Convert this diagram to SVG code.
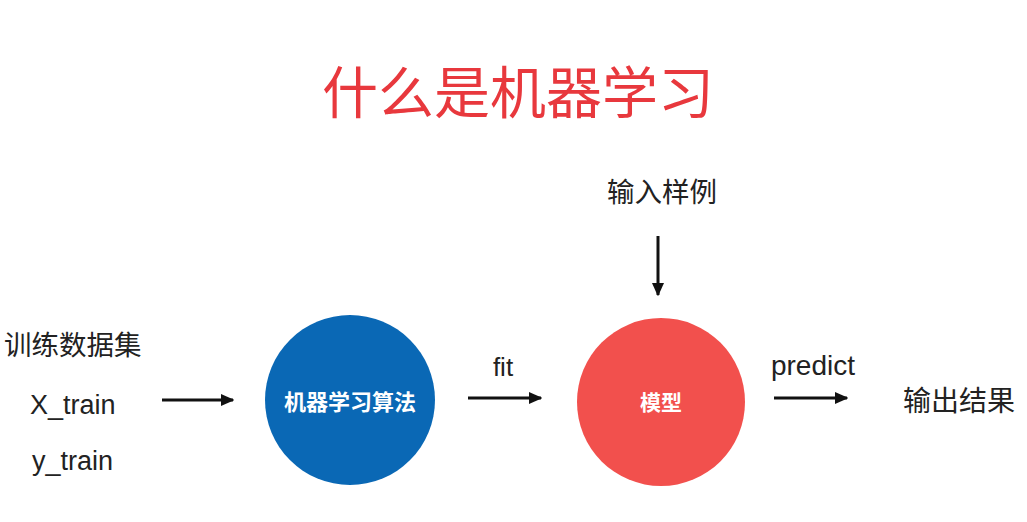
<svg xmlns="http://www.w3.org/2000/svg" width="1027" height="522" viewBox="0 0 1027 522">
<defs>
<marker id="ah" viewBox="0 0 10 10" refX="9" refY="5" markerWidth="4.5" markerHeight="4.5" orient="auto" markerUnits="strokeWidth"><path d="M0,0.5 L10,5 L0,9.5 z" fill="#111"/></marker>
<style>
.t{font-family:"Liberation Sans","Noto Sans CJK SC",sans-serif;fill:#222}
.w{font-family:"Noto Sans CJK SC",sans-serif;fill:#fff;font-weight:bold}
.c{stroke:#111;stroke-width:3;fill:none}
</style>
</defs>
<rect width="1027" height="522" fill="#fff"/>
<text x="518" y="113" text-anchor="middle" font-family="Noto Sans CJK SC, sans-serif" font-size="56" fill="#e8383d">什么是机器学习</text>
<g id="train">
<text class="t" x="4" y="355" font-size="27.5" font-family="Noto Sans CJK SC, sans-serif">训练数据集</text>
<text class="t" x="30" y="414" font-size="27">X_train</text>
<text class="t" x="32" y="470" font-size="27">y_train</text>
</g>
<g id="algo">
<circle cx="350" cy="400" r="85" fill="#0a68b5"/>
<text class="w" x="350" y="410" font-size="22" text-anchor="middle">机器学习算法</text>
</g>
<g id="model">
<circle cx="661" cy="402" r="84" fill="#f2504d"/>
<text class="w" x="661" y="410" font-size="21" text-anchor="middle">模型</text>
</g>
<g id="input">
<text class="t" x="662" y="202" font-size="27.5" text-anchor="middle">输入样例</text>
</g>
<g id="output">
<text class="t" x="959" y="411" font-size="28" text-anchor="middle">输出结果</text>
</g>
<g id="connectors">
<line class="c" x1="162" y1="400" x2="233" y2="400" marker-end="url(#ah)"/>
<line class="c" x1="468" y1="398" x2="541" y2="398" marker-end="url(#ah)"/>
<line class="c" x1="774" y1="398" x2="847" y2="398" marker-end="url(#ah)"/>
<line class="c" x1="658" y1="236" x2="658" y2="295" marker-end="url(#ah)"/>
<text class="t" x="503" y="376" font-size="26" text-anchor="middle">fit</text>
<text class="t" x="813" y="375" font-size="28" text-anchor="middle">predict</text>
</g>
</svg>
